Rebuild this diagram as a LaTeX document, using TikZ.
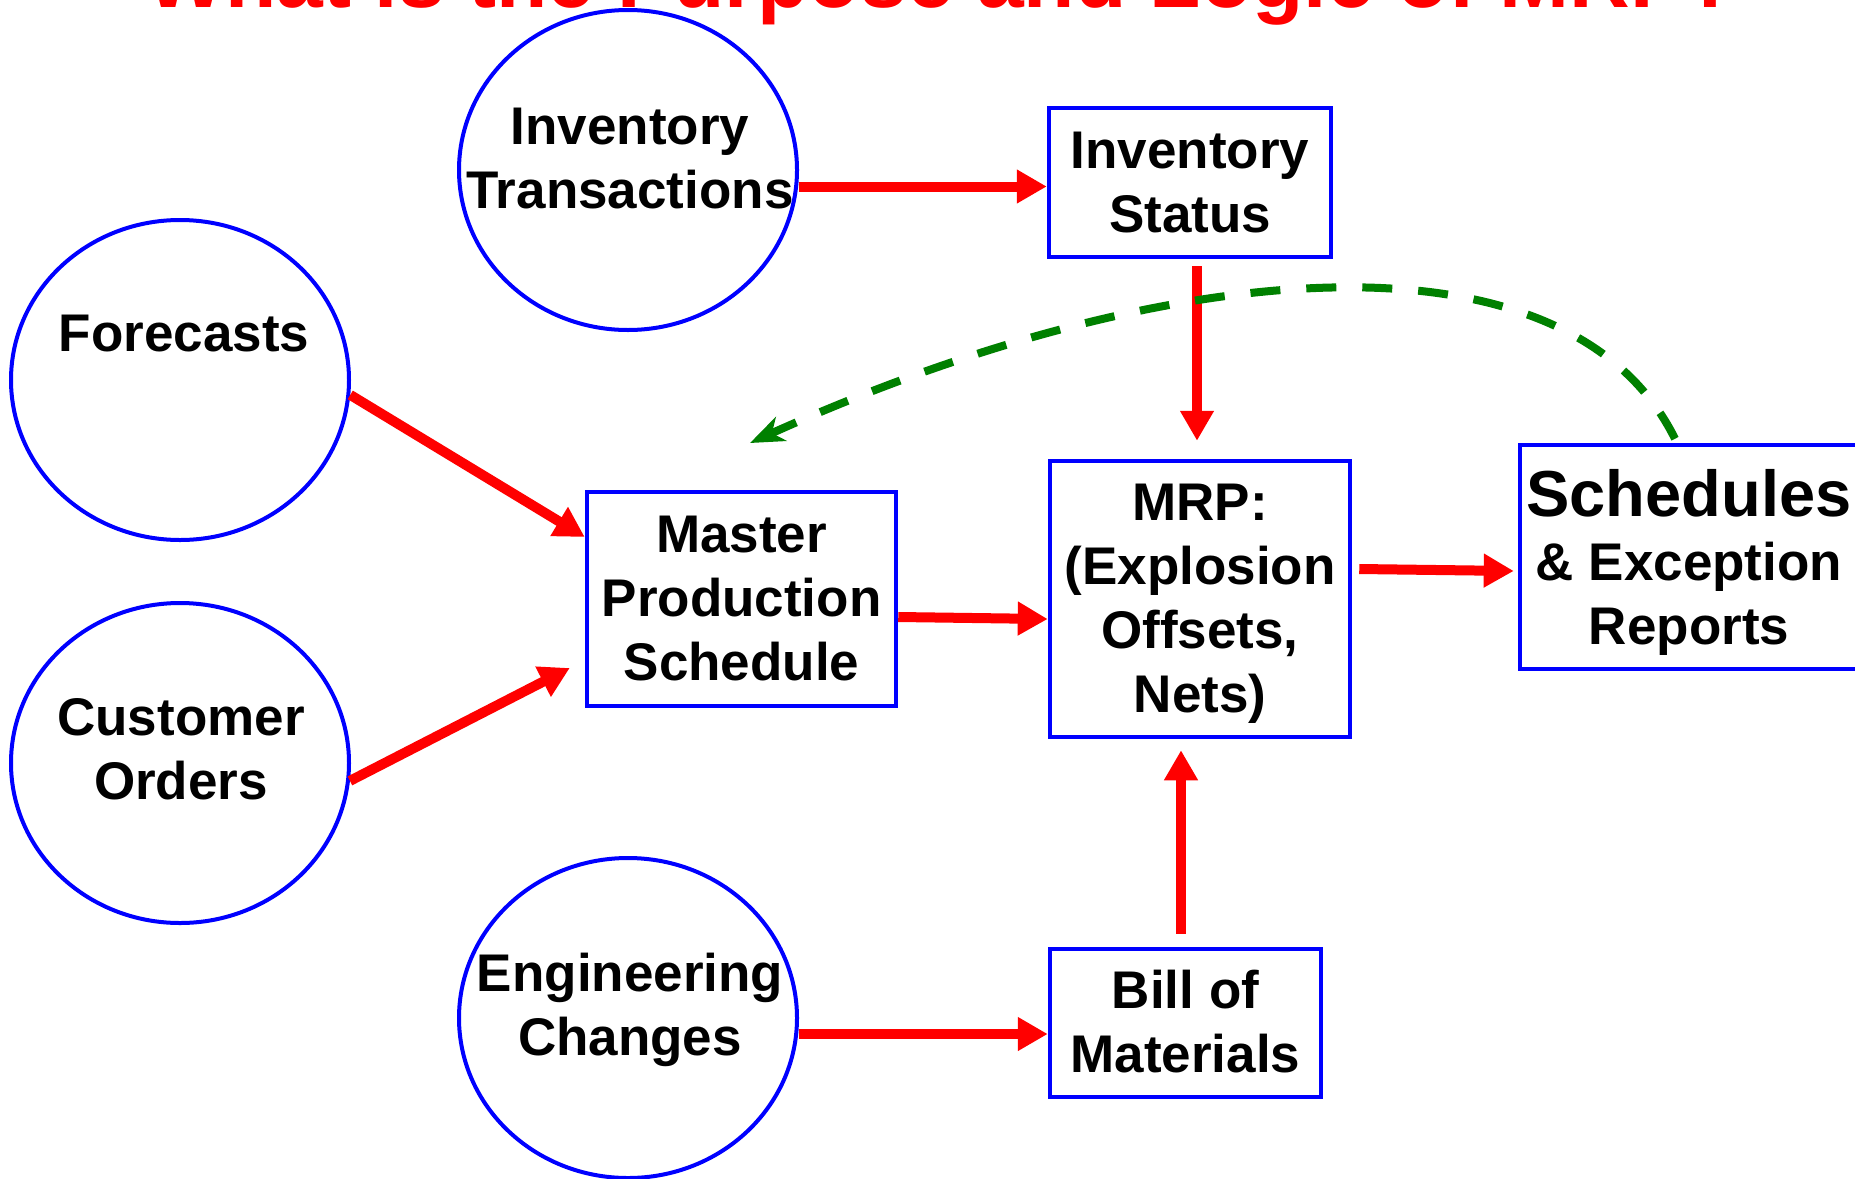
\documentclass[tikz,border=0pt]{standalone}
\usepackage{fontspec}
\setmainfont{Liberation Sans}
\usetikzlibrary{arrows.meta,shapes.geometric}
\definecolor{myblue}{RGB}{0,0,255}
\definecolor{myred}{RGB}{255,0,0}
\definecolor{mygreen}{RGB}{0,128,0}
\newcommand{\mytop}{\rule{0pt}{27.4pt}}
\begin{document}
\begin{tikzpicture}[x=0.5pt,y=-0.5pt,
  lbl/.style={font=\fontsize{26.5}{32}\selectfont\bfseries, align=center, inner sep=0pt},
  ell/.style={ellipse, draw=myblue, line width=2pt, minimum width=169pt, minimum height=160pt, inner sep=0pt},
  box/.style={rectangle, draw=myblue, line width=2.25pt, inner sep=2pt, font=\fontsize{26.5}{32}\selectfont\bfseries, align=center},
  ra/.style={draw=myred, line width=5pt, -{Triangle[length=15pt,width=16pt]}},
  ga/.style={draw=mygreen, line width=4pt, dash pattern=on 15pt off 13pt, -{Stealth[length=17pt,width=13pt,inset=5pt]}}
]
\fill[white] (0,0) rectangle (1855,1178);
\useasboundingbox (0,0) rectangle (1855,1178);

% title (mostly cut off at the top, as in the reference)
\node[font=\fontsize{42}{50}\selectfont\bfseries, text=myred, anchor=base, inner sep=0pt] (title) at (942,8) {What is the Purpose and Logic of MRP?};

% ellipses
\node[ell] (it) at (628,170) {};
\node[lbl] (itT) at (630,163.5) {\strut Inventory\\\strut Transactions};
\node[ell] (fc) at (180,380) {};
\node[lbl] (fcT) at (184,339) {\strut Forecasts};
\node[ell] (co) at (180,763) {};
\node[lbl] (coT) at (181,755) {\strut Customer\\\strut Orders};
\node[ell] (ec) at (628,1018) {};
\node[lbl] (ecT) at (630,1011) {\strut Engineering\\\strut Changes};

% boxes
\node[box, minimum width=141pt, minimum height=74.5pt] (is) at (1190,182.5) {\strut\mytop Inventory\\\strut Status};
\node[box, minimum width=154.5pt, minimum height=107pt] (mps) at (741.5,599) {\strut\mytop Master\\\strut Production\\\strut Schedule};
\node[box, minimum width=150pt, minimum height=138pt] (mrp) at (1200,599) {\strut\mytop MRP:\\\strut (Explosion\\\strut Offsets,\\\strut Nets)};
\node[box, minimum width=169pt, minimum height=112pt] (sch) at (1689,557) {\strut\rule{0pt}{33.5pt}{\fontsize{32.5}{39}\selectfont Schedules}\\\strut \& Exception\\\strut Reports};
\node[box, minimum width=135.5pt, minimum height=74pt] (bom) at (1185.5,1023) {\strut\mytop Bill of\\\strut Materials};

% red connectors
\coordinate (isIn) at ([yshift=-2pt]is.west);
\draw[ra] (it.east |- isIn) -- (isIn);
\draw[ra] ([xshift=3.5pt,yshift=-3.5pt]is.south) -- ([xshift=-1.5pt,yshift=9pt]mrp.north);
\draw[ra] (fc.-5) -- ([yshift=31pt]mps.west);
\draw[ra] (co.-6) -- ([xshift=-7.5pt,yshift=-34.5pt]mps.west);
\draw[ra] ([yshift=-9pt]mps.east) -- ([yshift=-10pt]mrp.west);
\draw[ra] ([xshift=3.5pt,yshift=15pt]mrp.east) -- ([xshift=-2pt,yshift=-7pt]sch.west);
\draw[ra] ([xshift=-2.25pt,yshift=6.5pt]bom.north) -- ([xshift=-9.5pt,yshift=-5.5pt]mrp.south);
\coordinate (bomIn) at ([yshift=-5.5pt]bom.west);
\draw[ra] (ec.east |- bomIn) -- (bomIn);

% green dashed feedback
\coordinate (fbEnd) at (750,443);
\draw[ga] ([xshift=-7pt,yshift=2pt]sch.north) .. controls (1565,218) and (1160,258) .. (fbEnd);
\end{tikzpicture}
\end{document}
